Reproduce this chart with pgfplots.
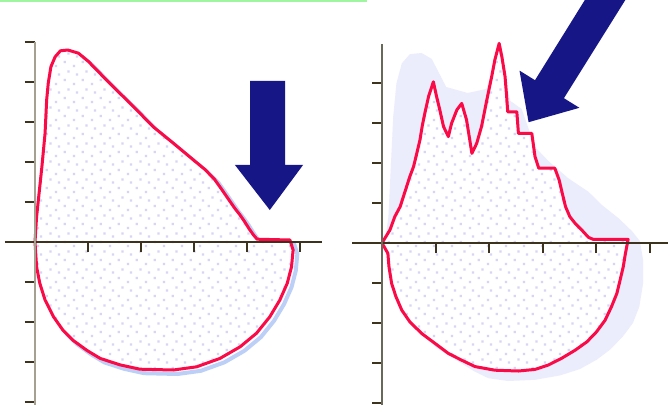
\documentclass[border=0pt]{standalone}
\usepackage{pgfplots}
\usepackage{pgfplotstable}
\pgfplotsset{compat=1.18}
\usetikzlibrary{patterns}

\definecolor{curvered}{RGB}{250,10,70}
\definecolor{navy}{RGB}{22,22,135}
\definecolor{halo}{RGB}{235,236,252}
\definecolor{shadowblue}{RGB}{160,188,245}
\definecolor{dotlav}{RGB}{215,212,245}
\definecolor{xaxcol}{RGB}{60,50,30}
\definecolor{yaxcolA}{RGB}{165,160,145}
\definecolor{yaxcolB}{RGB}{105,105,90}
\definecolor{topline}{RGB}{160,245,160}

% sparse stipple used inside the two shapes
\pgfdeclarepatternformonly{sparsedots}{\pgfqpoint{0bp}{0bp}}{\pgfqpoint{18bp}{18bp}}{\pgfqpoint{18bp}{18bp}}{%
  \pgfpathrectangle{\pgfqpoint{1bp}{1bp}}{\pgfqpoint{2.4bp}{2.4bp}}%
  \pgfpathrectangle{\pgfqpoint{10bp}{5bp}}{\pgfqpoint{2.4bp}{2.4bp}}%
  \pgfpathrectangle{\pgfqpoint{4bp}{11bp}}{\pgfqpoint{2.4bp}{2.4bp}}%
  \pgfpathrectangle{\pgfqpoint{14bp}{14bp}}{\pgfqpoint{2.4bp}{2.4bp}}%
  \pgfusepath{fill}}

% left shape: smooth skewed lobe above, half-disc below
\pgfplotstableread{
x y
0.00 0.00
0.03 0.63
0.13 1.88
0.19 2.72
0.22 3.55
0.25 3.97
0.30 4.38
0.38 4.63
0.48 4.78
0.62 4.80
0.82 4.72
1.01 4.51
1.29 4.13
1.60 3.72
1.92 3.30
2.23 2.88
2.61 2.47
2.99 2.05
3.20 1.82
3.38 1.58
3.52 1.32
3.65 1.07
3.76 0.86
3.86 0.69
3.95 0.52
4.04 0.33
4.12 0.18
4.19 0.07
4.81 0.05
4.87 -0.20
4.84 -0.62
4.76 -1.03
4.62 -1.45
4.43 -1.87
4.18 -2.28
3.87 -2.62
3.49 -2.91
3.05 -3.12
2.61 -3.20
1.98 -3.18
1.60 -3.07
1.23 -2.91
0.98 -2.71
0.72 -2.46
0.53 -2.21
0.35 -1.87
0.19 -1.45
0.09 -1.03
0.03 -0.62
0.00 0.00
}\leftshape

% right shape: jagged spectrum above, half-disc below
\pgfplotstableread{
x y
0.00 0.00
0.15 0.33
0.24 0.66
0.34 0.91
0.40 1.16
0.46 1.41
0.52 1.66
0.59 1.91
0.65 2.24
0.71 2.58
0.75 2.91
0.80 3.24
0.87 3.66
0.96 4.03
1.02 3.66
1.08 3.33
1.15 2.91
1.24 2.66
1.30 2.99
1.40 3.33
1.49 3.49
1.58 3.08
1.64 2.58
1.68 2.24
1.77 2.49
1.86 2.91
1.96 3.58
2.05 4.16
2.11 4.58
2.19 4.99
2.24 4.66
2.30 4.16
2.33 3.66
2.35 3.28
2.52 3.28
2.55 2.74
2.80 2.74
2.86 2.16
2.93 1.87
3.23 1.87
3.31 1.58
3.37 1.24
3.43 0.91
3.51 0.66
3.61 0.49
3.73 0.33
3.86 0.14
3.95 0.09
4.60 0.09
4.55 -0.26
4.51 -0.59
4.45 -0.93
4.39 -1.26
4.29 -1.59
4.17 -1.93
4.01 -2.22
3.83 -2.47
3.61 -2.68
3.36 -2.88
3.11 -3.05
2.86 -3.16
2.55 -3.20
2.11 -3.18
1.74 -3.09
1.49 -2.93
1.24 -2.76
0.99 -2.51
0.74 -2.26
0.52 -1.97
0.37 -1.68
0.26 -1.34
0.18 -1.01
0.13 -0.59
0.11 -0.26
0.00 0.00
}\rightshape

% pale glow behind the right shape
\pgfplotstableread{
x y
0.06 0.08
0.12 0.66
0.15 1.49
0.18 2.33
0.21 3.16
0.27 3.99
0.37 4.49
0.52 4.72
0.74 4.75
0.93 4.60
1.20 3.90
1.60 3.75
1.95 3.85
2.19 4.80
2.40 3.55
2.61 3.35
2.86 2.40
3.11 2.05
3.48 1.62
3.86 1.28
4.11 0.95
4.42 0.62
4.67 0.30
4.82 0.05
4.88 -0.42
4.88 -1.01
4.81 -1.59
4.69 -2.00
4.50 -2.34
4.26 -2.67
4.01 -2.92
3.70 -3.15
3.33 -3.31
2.86 -3.42
2.36 -3.45
1.99 -3.38
1.74 -3.22
1.00 -2.60
0.50 -1.90
0.20 -1.00
0.06 0.08
}\rightglow

\pgfplotsset{
  panel/.style={
    axis lines=middle, axis on top, clip=false, enlargelimits=false,
    anchor=origin, no markers,
    xtick={1,...,5}, ytick={-4,-3,-2,-1,1,2,3,4,5},
    xticklabels={}, yticklabels={},
    tick align=outside, major tick length=10bp,
    every tick/.style={xaxcol, line width=2bp},
    axis line style={-},
    every inner x axis line/.append style={-},
    every inner y axis line/.append style={-},
    x axis line style={xaxcol, line width=2.5bp, -},
  },
}

\begin{document}
\begin{tikzpicture}
\fill[white] (0,0) rectangle (669bp,-410bp);
\fill[topline] (0,0) rectangle (367bp,-1.5bp);

% left panel
\begin{axis}[panel, x=53bp, y=40bp, at={(35bp,-242bp)},
  xmin=-0.57, xmax=5.42, ymin=-4.07, ymax=5.0,
  y axis line style={yaxcolA, line width=2.5bp, -}]
  \addplot[draw=shadowblue, line width=4bp, line join=round, opacity=0.7]
    table[x expr=\thisrow{x}+0.08, y expr=\thisrow{y}-0.1] {\leftshape};
  \addplot[draw=none, fill=white, postaction={pattern=sparsedots, pattern color=dotlav}]
    table {\leftshape};
  \addplot[draw=curvered, line width=3bp, line join=round] table {\leftshape};
  % downward block arrow
  \addplot[draw=none, fill=navy] coordinates {
    (4.06,4.03) (4.72,4.03) (4.72,1.93) (5.06,1.93) (4.43,0.80)
    (3.77,1.93) (4.06,1.93) (4.06,4.03)};
\end{axis}

% right panel
\begin{axis}[panel, x=53.5bp, y=40bp, at={(382bp,-243bp)},
  xmin=-0.56, xmax=5.35, ymin=-4.05, ymax=4.98,
  y axis line style={yaxcolB, line width=2.5bp, -}]
  \addplot[draw=none, fill=halo] table {\rightglow};
  \addplot[draw=none, fill=white, postaction={pattern=sparsedots, pattern color=dotlav}]
    table {\rightshape};
  \addplot[draw=curvered, line width=3bp, line join=round] table {\rightshape};
  % diagonal block arrow
  \addplot[draw=none, fill=navy] coordinates {
    (2.74,3.02) (3.69,3.38) (3.40,3.62) (4.99,7.02) (4.44,7.47)
    (2.86,4.07) (2.57,4.31) (2.74,3.02)};
\end{axis}

\pgfresetboundingbox
\useasboundingbox (0,0) rectangle (669bp,-410bp);
\end{tikzpicture}
\end{document}
